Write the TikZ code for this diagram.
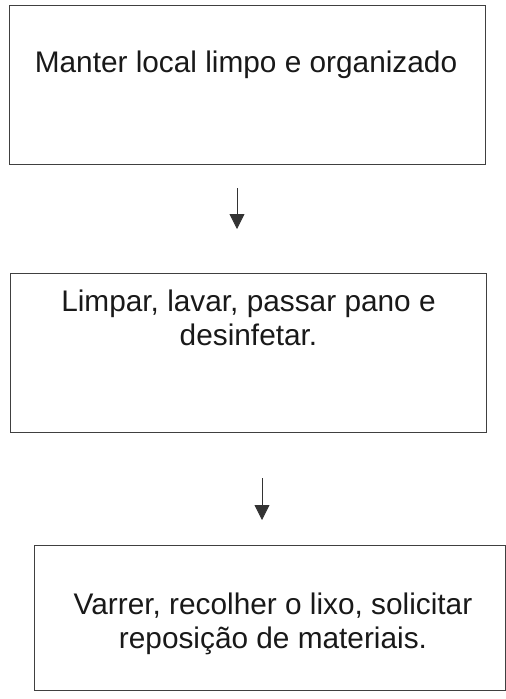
\documentclass[tikz,border=0pt]{standalone}
\usepackage{fontspec}
\setmainfont{Liberation Sans}
\usetikzlibrary{arrows.meta}
\begin{document}
\begin{tikzpicture}[x=1pt,y=-1pt,
  boxstyle/.style={draw=black!75,line width=0.9pt},
  txt/.style={font=\fontsize{29.8}{34}\selectfont,align=center,inner sep=0pt,anchor=base,text=black!90},
  arr/.style={draw=black!80,line width=0.8pt,-{Triangle[width=15pt,length=15pt]}}]
\useasboundingbox (0,0) rectangle (506,699);
\draw[boxstyle] (9,5) rectangle (485,164);
\node[txt] (t1) at (246,72) {Manter local limpo e organizado};
\coordinate (a1s) at (237,188);
\coordinate (a1e) at (237,229);
\draw[arr] (a1s) -- (a1e);
\draw[boxstyle] (10,273) rectangle (486,432);
\node[txt] (t2) at (248.5,345) {Limpar, lavar, passar pano e\\desinfetar.};
\coordinate (a2s) at (262,478);
\coordinate (a2e) at (262,520);
\draw[arr] (a2s) -- (a2e);
\draw[boxstyle] (34,545) rectangle (505,690);
\node[txt] (t3) at (273,648) {Varrer, recolher o lixo, solicitar\\reposição de materiais.};
\end{tikzpicture}
\end{document}
